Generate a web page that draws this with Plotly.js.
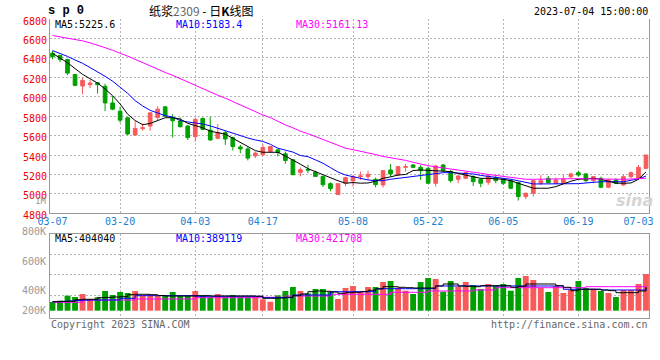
<!DOCTYPE html>
<html><head><meta charset="utf-8">
<script src="https://cdn.plot.ly/plotly-3.0.1.min.js"></script>
<style>html,body{margin:0;padding:0;background:#fff}#chart{width:660px;height:360px}</style>
</head><body><div id="chart"></div>
<script>
// trading days 2023-03-07 .. 2023-07-04
const dates = ['03-07','03-08','03-09','03-10','03-13','03-14','03-15','03-16','03-17','03-20','03-21','03-22','03-23','03-24','03-27','03-28','03-29','03-30','03-31',
'04-03','04-04','04-06','04-07','04-10','04-11','04-12','04-13','04-14','04-17','04-18','04-19','04-20','04-21','04-24','04-25','04-26','04-27','04-28',
'05-04','05-05','05-08','05-09','05-10','05-11','05-12','05-15','05-16','05-17','05-18','05-19','05-22','05-23','05-24','05-25','05-26','05-29','05-30','05-31',
'06-01','06-02','06-05','06-06','06-07','06-08','06-09','06-12','06-13','06-14','06-15','06-16','06-19','06-20','06-21','06-26','06-27','06-28','06-29','06-30',
'07-03','07-04'];

const open  = [6448,6424,6383,6229,6110,6124,6144,6107,5936,5851,5783,5606,5671,5698,5787,5896,5783,5749,5698,5589,5776,5657,5572,5630,5579,5483,5463,5391,5402,5436,5453,5412,5351,5221,5252,5224,5180,5105,4993,5109,
               5133,5177,5177,5150,5092,5246,5194,5273,5297,5273,5263,5109,5297,5229,5150,5160,5177,5150,5119,5167,5150,5136,5116,4972,5006,5109,5160,5109,5109,5177,5218,5205,5136,5160,5068,5143,5092,5177,5160,5263];
const high  = [6470,6432,6390,6236,6195,6175,6151,6134,6005,5896,5790,5749,5725,5834,5902,5902,5820,5787,5708,5787,5787,5793,5718,5650,5589,5504,5480,5436,5511,5494,5460,5436,5355,5272,5300,5238,5187,5119,5105,5177,
               5195,5229,5239,5167,5239,5307,5287,5307,5307,5297,5280,5297,5307,5246,5194,5229,5194,5160,5205,5184,5160,5150,5126,5013,5143,5194,5184,5167,5194,5218,5239,5211,5184,5177,5150,5160,5194,5229,5297,5400];
const low   = [6386,6356,6223,6107,6025,6090,6032,5851,5861,5732,5606,5600,5650,5650,5759,5793,5579,5684,5555,5538,5657,5545,5562,5504,5446,5419,5344,5368,5391,5425,5385,5310,5197,5180,5214,5180,5071,5027,4993,5078,
               5075,5143,5143,5068,5064,5177,5184,5229,5263,5143,5109,5075,5229,5116,5109,5150,5082,5068,5092,5109,5092,5047,4931,4945,4972,5092,5109,5099,5102,5160,5177,5116,5109,5058,5058,5102,5082,5160,5143,5253];
const close = [6413,6383,6243,6117,6168,6141,6124,5936,5872,5759,5616,5674,5681,5834,5872,5800,5752,5691,5579,5766,5664,5555,5630,5565,5487,5463,5368,5419,5477,5487,5425,5344,5197,5248,5245,5180,5095,5054,5105,5167,
               5177,5184,5201,5095,5239,5205,5280,5280,5273,5239,5109,5287,5239,5136,5184,5218,5126,5109,5184,5136,5109,5058,4972,5006,5136,5136,5116,5143,5150,5205,5194,5136,5177,5068,5143,5109,5177,5218,5273,5400];

const ma5  = [6447,6400,6350,6290,6230,6185,6140,6080,6010,5925,5821,5755,5712,5725,5755,5784,5784,5770,5726,5700,5680,5645,5633,5615,5572,5530,5486,5445,5428,5428,5428,5390,5350,5305,5260,5228,5195,5170,5135,5110,
              5116,5110,5112,5130,5160,5175,5194,5200,5240,5246,5240,5236,5232,5229,5210,5195,5175,5160,5160,5158,5150,5135,5110,5080,5058,5058,5058,5075,5105,5130,5150,5158,5160,5150,5130,5110,5109,5112,5150,5225.6];
const ma10 = [6475,6447,6415,6378,6344,6300,6258,6210,6160,6100,6035,5960,5905,5860,5830,5805,5790,5755,5740,5730,5719,5700,5675,5650,5620,5595,5575,5555,5540,5510,5470,5450,5430,5395,5383,5350,5315,5270,5225,5194,
              5177,5155,5143,5136,5136,5150,5160,5170,5185,5195,5205,5210,5218,5218,5215,5210,5205,5190,5180,5175,5165,5150,5135,5118,5102,5102,5102,5100,5100,5100,5105,5112,5120,5125,5125,5122,5125,5140,5155,5183.4];
const ma30 = [6630,6618,6605,6592,6575,6555,6532,6505,6478,6450,6418,6385,6350,6318,6285,6250,6220,6185,6150,6120,6085,6050,6015,5985,5950,5915,5880,5845,5812,5785,5745,5710,5680,5645,5620,5590,5560,5525,5495,5470,
              5455,5440,5425,5405,5385,5372,5360,5345,5325,5305,5290,5278,5268,5258,5245,5235,5228,5212,5200,5190,5182,5170,5160,5150,5150,5152,5155,5157,5158,5158,5157,5155,5153,5152,5150,5150,5150,5152,5155,5161.13];

const volume = [147900,170000,255000,232900,283900,193800,227800,334900,266900,317900,300900,334900,266900,277100,249900,260100,317900,255000,260100,334900,260100,232900,283900,238000,266900,238000,238000,238000,193800,153000,260100,334900,402900,334900,294100,368900,368900,323000,198900,385900,
                419900,323000,402900,402900,487900,504900,391000,340000,283900,487900,555900,538900,323000,504900,408000,487900,436900,368900,453900,419900,453900,340000,555900,589900,521900,391000,317900,419900,300900,351900,504900,385900,374000,334900,300900,232900,351900,351900,453900,623900];
const volMa5  = [153000,156000,160000,187000,194000,194000,221000,226000,233000,238000,272000,279000,279000,272000,258000,250000,250000,250000,250000,255000,255000,250000,250000,250000,250000,250000,250000,245000,211000,211000,216000,228000,255000,284000,323000,335000,330000,318000,296000,306000,
                 313000,323000,347000,369000,408000,408000,398000,391000,386000,386000,386000,420000,454000,454000,420000,415000,408000,425000,425000,425000,425000,398000,415000,454000,454000,454000,454000,425000,398000,340000,364000,364000,364000,352000,340000,306000,306000,306000,335000,404040];
const volMa10 = [153000,160000,167000,173000,179000,182000,182000,182000,182000,211000,211000,255000,255000,255000,255000,255000,255000,255000,255000,245000,245000,245000,245000,245000,245000,245000,245000,245000,221000,221000,221000,221000,267000,267000,267000,267000,267000,323000,323000,323000,
                 323000,323000,323000,374000,374000,374000,374000,374000,374000,374000,374000,420000,420000,420000,420000,420000,420000,420000,420000,420000,420000,420000,420000,420000,420000,420000,420000,420000,364000,364000,364000,364000,364000,352000,352000,352000,352000,352000,352000,389119];
const volMa30 = [143000,143000,143000,143000,182000,182000,182000,182000,182000,182000,182000,199000,199000,199000,199000,199000,199000,199000,199000,221000,221000,221000,221000,221000,221000,221000,221000,221000,228000,228000,228000,250000,250000,250000,250000,250000,250000,279000,279000,279000,
                 279000,279000,279000,279000,279000,313000,313000,313000,313000,313000,335000,335000,335000,335000,335000,335000,352000,352000,352000,391000,391000,391000,391000,391000,391000,391000,391000,391000,391000,391000,391000,408000,408000,408000,408000,408000,408000,408000,408000,421708];

const labelDates = ['03-07','03-20','04-03','04-17','05-08','05-22','06-05','06-19','07-03'];
const gridDates  = ['03-20','04-03','04-17','05-08','05-22','06-05','06-19'];
const priceTicks = [4800,5000,5200,5400,5600,5800,6000,6200,6400,6600,6800];
const volGrid    = [262000,607000,947000];
const volLabels  = ['800K','600K','400K','200K'];

const RED = '#f85a5a', GREEN = '#00a000';
const GRID = '#b4b4b4', BORDER = '#999999';
const MONO = 'DejaVu Sans Mono';

const idx = dates.map((d, i) => i);
const labelIdx = labelDates.map(d => dates.indexOf(d));
const gridIdx = gridDates.map(d => dates.indexOf(d));
const volColors = close.map((c, i) => c >= open[i] ? RED : GREEN);
const xRange = [-0.333, 79.4];

const traces = [
  {type:'candlestick', x: idx, open, high, low, close, xaxis:'x', yaxis:'y',
   increasing:{line:{color:RED, width:1}, fillcolor:RED},
   decreasing:{line:{color:GREEN, width:1}, fillcolor:GREEN},
   whiskerwidth:0, hoverinfo:'skip'},
  {type:'scatter', mode:'lines', x: idx, y: ma10, xaxis:'x', yaxis:'y', line:{color:'#0000ff', width:1}, hoverinfo:'skip'},
  {type:'scatter', mode:'lines', x: idx, y: ma5,  xaxis:'x', yaxis:'y', line:{color:'#000000', width:1}, hoverinfo:'skip'},
  // MA30 is drawn on the overlaid date-label axis (same range as x)
  {type:'scatter', mode:'lines', x: idx, y: ma30, xaxis:'x3', yaxis:'y', line:{color:'#ff00ff', width:1}, hoverinfo:'skip'},
  {type:'bar', x: idx, y: volume, xaxis:'x2', yaxis:'y2', width:0.78, marker:{color: volColors, line:{width:0}}, hoverinfo:'skip'},
  {type:'scatter', mode:'lines', x: idx, y: volMa30, xaxis:'x2', yaxis:'y2', line:{color:'#ff00ff', width:1, shape:'hv'}, hoverinfo:'skip'},
  {type:'scatter', mode:'lines', x: idx, y: volMa10, xaxis:'x2', yaxis:'y2', line:{color:'#0000ff', width:1, shape:'hv'}, hoverinfo:'skip'},
  {type:'scatter', mode:'lines', x: idx, y: volMa5,  xaxis:'x2', yaxis:'y2', line:{color:'#000000', width:1, shape:'hv'}, hoverinfo:'skip'}
];

const pxY = y => (318 - y) / 299;   // figure pixel row -> paper
const pxX = x => (x - 50) / 599;    // figure pixel column -> paper
const ann = (text, x, y, xanchor, color, extra) => Object.assign({
  text, x: pxX(x), y: pxY(y), xref:'paper', yref:'paper', xanchor, yanchor:'middle',
  showarrow:false, borderpad:0, font:{family:MONO, size:10, color}
}, extra || {});

const volLabelRows = [231, 261.7, 290.7, 310];
const annotations = [
  ann('s p 0', 47, 11, 'left', '#000', {font:{family:'Liberation Mono', size:12, color:'#000', weight:'bold'}}),
  ann('纸浆<span style="color:#666">2309</span> - 日<b>K</b>线图', 201, 10, 'center', '#000', {font:{family:'Noto Sans CJK SC', size:12, color:'#000'}}),
  ann('2023-07-04 15:00:00', 649, 11, 'right', '#000'),
  ann('MA5:' + ma5[ma5.length-1].toFixed(1), 54, 25, 'left', '#000'),
  ann('MA10:' + ma10[ma10.length-1].toFixed(1), 175, 25, 'left', '#0000ff'),
  ann('MA30:' + ma30[ma30.length-1].toFixed(2), 295, 25, 'left', '#ff00ff'),
  ann('MA5:' + volMa5[volMa5.length-1], 54, 238.5, 'left', '#000'),
  ann('MA10:' + volMa10[volMa10.length-1], 175, 238.5, 'left', '#0000ff'),
  ann('MA30:' + volMa30[volMa30.length-1], 295, 238.5, 'left', '#ff00ff'),
  ann('1M', 46.5, 201.5, 'right', '#999', {font:{family:MONO, size:9, color:'#999'}}),
  ann('Copyright 2023 SINA.COM', 50, 324, 'left', '#666'),
  ann('http://finance.sina.com.cn', 649, 324, 'right', '#666'),
  ann('sina', 634, 200, 'center', '#d4d4d4', {font:{family:'DejaVu Sans', size:16, color:'#d4d4d4', weight:'bold', style:'italic'}})
].concat(volLabels.map((t, i) => ann(t, 46.5, volLabelRows[i], 'right', '#999')));

const axCommon = {showgrid:true, gridcolor:GRID, gridwidth:1, griddash:'2px,2px', zeroline:false, ticks:'', fixedrange:true};

const layout = {
  width:660, height:360,
  margin:{l:50, r:11, t:19, b:42, pad:0},
  paper_bgcolor:'#fff', plot_bgcolor:'#fff',
  showlegend:false, hovermode:false, boxgap:0.3,
  font:{family:MONO, size:10, color:'#000'},
  xaxis: Object.assign({}, axCommon, {domain:[0,1], anchor:'y', range:xRange, tickvals:gridIdx, showticklabels:false,
          showline:true, linecolor:BORDER, linewidth:1, mirror:false, rangeslider:{visible:false}}),
  xaxis3: {overlaying:'x', anchor:'y', side:'bottom', range:xRange, tickvals:labelIdx, ticktext:labelDates,
          tickfont:{family:MONO, size:10, color:'#1a80d0'}, showgrid:false, showline:false, zeroline:false, ticks:'',
          ticklabelstandoff:1, fixedrange:true},
  yaxis: Object.assign({}, axCommon, {domain:[0.3502,1], anchor:'x', range:[4800,6800], tickvals:priceTicks,
          tickfont:{family:MONO, size:10, color:'#ee0000'}, showline:true, mirror:true, linecolor:BORDER, linewidth:1, ticklabelshift:2}),
  xaxis2: Object.assign({}, axCommon, {domain:[0,1], anchor:'y2', range:xRange, tickvals:gridIdx, showticklabels:false,
          showline:true, mirror:true, linecolor:BORDER, linewidth:1}),
  yaxis2: Object.assign({}, axCommon, {domain:[0,0.2799], anchor:'x2', range:[-124100,1298800], tickvals:volGrid, showticklabels:false,
          showline:true, mirror:true, linecolor:BORDER, linewidth:1}),
  annotations
};

Plotly.newPlot('chart', traces, layout, {staticPlot:true, displayModeBar:false});
</script>
</body></html>
